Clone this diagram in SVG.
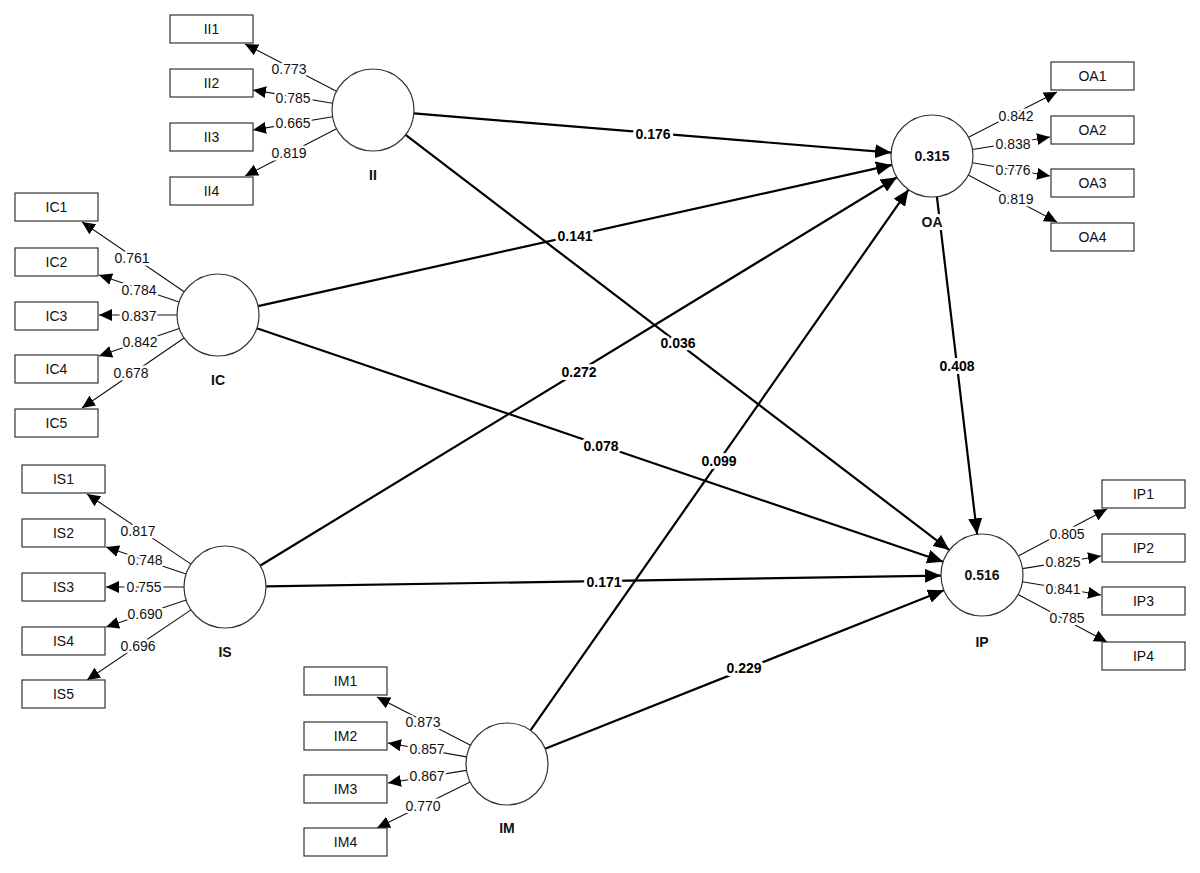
<svg xmlns="http://www.w3.org/2000/svg" width="1200" height="873" viewBox="0 0 1200 873">
<style>
.bg{fill:#fff}
.box{fill:#fff;stroke:#333;stroke-width:1.2}
.lv{fill:#fff;stroke:#333;stroke-width:1.2}
.bt{font-family:"Liberation Sans",Arial,sans-serif;font-size:14px;fill:#111;text-anchor:middle}
.nm{font-family:"Liberation Sans",Arial,sans-serif;font-size:14px;font-weight:bold;fill:#111;text-anchor:middle;stroke:#fff;stroke-width:6;paint-order:stroke;stroke-linejoin:round}
.ml{stroke:#111;stroke-width:1.1;fill:none;marker-end:url(#ah)}
.sl{stroke:#000;stroke-width:2.2;fill:none;marker-end:url(#ahb)}
.lt{font-family:"Liberation Sans",Arial,sans-serif;font-size:14px;fill:#111;text-anchor:middle;stroke:#fff;stroke-width:5;paint-order:stroke;stroke-linejoin:round}
.st{font-family:"Liberation Sans",Arial,sans-serif;font-size:14px;font-weight:bold;fill:#000;text-anchor:middle;stroke:#fff;stroke-width:6;paint-order:stroke;stroke-linejoin:round}
</style>
<defs>
<marker id="ah" markerUnits="userSpaceOnUse" markerWidth="14" markerHeight="12" viewBox="0 0 14 12" refX="13" refY="6" orient="auto"><path d="M0,0 L13,6 L0,12 Z" fill="#000"/></marker>
<marker id="ahb" markerUnits="userSpaceOnUse" markerWidth="17" markerHeight="14" viewBox="0 0 17 14" refX="16" refY="7" orient="auto"><path d="M0,0 L16,7 L0,14 Z" fill="#000"/></marker>
</defs>
<rect class="bg" x="0" y="0" width="1200" height="873"/>

<g id="connectors">
<line class="sl" x1="413.9" y1="113.4" x2="891.1" y2="152.6"/>
<line class="sl" x1="405.6" y1="134.9" x2="949.4" y2="550.1"/>
<line class="sl" x1="258.0" y1="306.1" x2="892.0" y2="164.9"/>
<line class="sl" x1="256.8" y1="328.2" x2="943.2" y2="561.8"/>
<line class="sl" x1="260.0" y1="565.7" x2="897.0" y2="177.3"/>
<line class="sl" x1="266.0" y1="586.4" x2="941.0" y2="575.6"/>
<line class="sl" x1="530.5" y1="730.4" x2="908.5" y2="189.6"/>
<line class="sl" x1="545.1" y1="748.8" x2="943.9" y2="590.2"/>
<line class="sl" x1="936.9" y1="196.7" x2="977.1" y2="534.3"/>

<line class="ml" x1="336.5" y1="91.2" x2="245" y2="44"/>
<line class="ml" x1="332.6" y1="103.3" x2="253" y2="90"/>
<line class="ml" x1="332.6" y1="116.7" x2="253" y2="130"/>
<line class="ml" x1="336.5" y1="128.8" x2="245" y2="176"/>

<line class="ml" x1="184.2" y1="291.7" x2="82" y2="222"/>
<line class="ml" x1="179.1" y1="302" x2="99" y2="275"/>
<line class="ml" x1="177" y1="315" x2="99" y2="315"/>
<line class="ml" x1="179.2" y1="328.4" x2="99" y2="356"/>
<line class="ml" x1="184.1" y1="338" x2="82" y2="408"/>

<line class="ml" x1="191" y1="564.1" x2="87" y2="494"/>
<line class="ml" x1="186.1" y1="574" x2="106" y2="547"/>
<line class="ml" x1="184" y1="587" x2="106" y2="587"/>
<line class="ml" x1="186.1" y1="600" x2="106" y2="627"/>
<line class="ml" x1="191" y1="609.9" x2="87" y2="680"/>

<line class="ml" x1="470.5" y1="745.2" x2="377" y2="697"/>
<line class="ml" x1="466.6" y1="756.9" x2="388" y2="743"/>
<line class="ml" x1="466.5" y1="770.4" x2="388" y2="783"/>
<line class="ml" x1="470.2" y1="782.1" x2="377" y2="828"/>

<line class="ml" x1="968.5" y1="137.3" x2="1057" y2="92"/>
<line class="ml" x1="972.5" y1="149.5" x2="1050" y2="137"/>
<line class="ml" x1="972.4" y1="162.8" x2="1050" y2="176"/>
<line class="ml" x1="968.2" y1="175.1" x2="1057" y2="222"/>

<line class="ml" x1="1018.2" y1="555.9" x2="1107" y2="509"/>
<line class="ml" x1="1022.5" y1="568.6" x2="1101" y2="556"/>
<line class="ml" x1="1022.4" y1="581.7" x2="1101" y2="595"/>
<line class="ml" x1="1018.1" y1="594.4" x2="1107" y2="642"/>

<text class="st" x="653" y="139">0.176</text>
<text class="st" x="575" y="241">0.141</text>
<text class="st" x="678" y="348">0.036</text>
<text class="st" x="579" y="377">0.272</text>
<text class="st" x="601" y="451">0.078</text>
<text class="st" x="719" y="466">0.099</text>
<text class="st" x="604" y="587">0.171</text>
<text class="st" x="744" y="673">0.229</text>
<text class="st" x="957" y="371">0.408</text>

<text class="lt" x="289" y="74">0.773</text>
<text class="lt" x="293" y="103">0.785</text>
<text class="lt" x="293" y="128">0.665</text>
<text class="lt" x="289" y="158">0.819</text>

<text class="lt" x="132" y="263">0.761</text>
<text class="lt" x="139" y="295">0.784</text>
<text class="lt" x="139" y="321">0.837</text>
<text class="lt" x="140" y="347">0.842</text>
<text class="lt" x="131" y="378">0.678</text>

<text class="lt" x="138" y="536">0.817</text>
<text class="lt" x="145" y="565">0.748</text>
<text class="lt" x="144" y="592">0.755</text>
<text class="lt" x="145" y="619">0.690</text>
<text class="lt" x="138" y="651">0.696</text>

<text class="lt" x="423" y="727">0.873</text>
<text class="lt" x="427" y="754">0.857</text>
<text class="lt" x="427" y="781">0.867</text>
<text class="lt" x="423" y="811">0.770</text>

<text class="lt" x="1016" y="121">0.842</text>
<text class="lt" x="1013" y="149">0.838</text>
<text class="lt" x="1013" y="175">0.776</text>
<text class="lt" x="1016" y="204">0.819</text>

<text class="lt" x="1067" y="539">0.805</text>
<text class="lt" x="1063" y="567">0.825</text>
<text class="lt" x="1063" y="594">0.841</text>
<text class="lt" x="1067" y="623">0.785</text>
</g>

<g id="II"><circle class="lv" cx="373" cy="110" r="41"/><text class="nm" x="373" y="180">II</text></g>
<g id="IC"><circle class="lv" cx="218" cy="315" r="41"/><text class="nm" x="218" y="385">IC</text></g>
<g id="IS"><circle class="lv" cx="225" cy="587" r="41"/><text class="nm" x="225" y="657">IS</text></g>
<g id="IM"><circle class="lv" cx="507" cy="764" r="41"/><text class="nm" x="507" y="833">IM</text></g>
<g id="OA"><circle class="lv" cx="932" cy="156" r="41"/><text class="nm" x="932" y="161">0.315</text><text class="nm" x="932" y="227">OA</text></g>
<g id="IP"><circle class="lv" cx="982" cy="575" r="41"/><text class="nm" x="982" y="580">0.516</text><text class="nm" x="982" y="647">IP</text></g>

<g id="II1"><rect class="box" x="170" y="15" width="83" height="28"/><text class="bt" x="211.5" y="34">II1</text></g>
<g id="II2"><rect class="box" x="170" y="69" width="83" height="28"/><text class="bt" x="211.5" y="88">II2</text></g>
<g id="II3"><rect class="box" x="170" y="123" width="83" height="28"/><text class="bt" x="211.5" y="142">II3</text></g>
<g id="II4"><rect class="box" x="170" y="177" width="83" height="28"/><text class="bt" x="211.5" y="196">II4</text></g>

<g id="IC1"><rect class="box" x="15" y="193" width="83" height="28"/><text class="bt" x="56.5" y="212">IC1</text></g>
<g id="IC2"><rect class="box" x="15" y="248" width="83" height="28"/><text class="bt" x="56.5" y="267">IC2</text></g>
<g id="IC3"><rect class="box" x="15" y="302" width="83" height="28"/><text class="bt" x="56.5" y="321">IC3</text></g>
<g id="IC4"><rect class="box" x="15" y="355" width="83" height="28"/><text class="bt" x="56.5" y="374">IC4</text></g>
<g id="IC5"><rect class="box" x="15" y="409" width="83" height="28"/><text class="bt" x="56.5" y="428">IC5</text></g>

<g id="IS1"><rect class="box" x="22" y="465" width="83" height="28"/><text class="bt" x="63.5" y="484">IS1</text></g>
<g id="IS2"><rect class="box" x="22" y="519" width="83" height="28"/><text class="bt" x="63.5" y="538">IS2</text></g>
<g id="IS3"><rect class="box" x="22" y="573" width="83" height="28"/><text class="bt" x="63.5" y="592">IS3</text></g>
<g id="IS4"><rect class="box" x="22" y="627" width="83" height="28"/><text class="bt" x="63.5" y="646">IS4</text></g>
<g id="IS5"><rect class="box" x="22" y="680" width="83" height="28"/><text class="bt" x="63.5" y="699">IS5</text></g>

<g id="IM1"><rect class="box" x="304" y="667" width="83" height="28"/><text class="bt" x="345.5" y="686">IM1</text></g>
<g id="IM2"><rect class="box" x="304" y="722" width="83" height="28"/><text class="bt" x="345.5" y="741">IM2</text></g>
<g id="IM3"><rect class="box" x="304" y="775" width="83" height="28"/><text class="bt" x="345.5" y="794">IM3</text></g>
<g id="IM4"><rect class="box" x="304" y="828" width="83" height="28"/><text class="bt" x="345.5" y="847">IM4</text></g>

<g id="OA1"><rect class="box" x="1051" y="62" width="83" height="28"/><text class="bt" x="1092.5" y="81">OA1</text></g>
<g id="OA2"><rect class="box" x="1051" y="116" width="83" height="28"/><text class="bt" x="1092.5" y="135">OA2</text></g>
<g id="OA3"><rect class="box" x="1051" y="169" width="83" height="28"/><text class="bt" x="1092.5" y="188">OA3</text></g>
<g id="OA4"><rect class="box" x="1051" y="223" width="83" height="28"/><text class="bt" x="1092.5" y="242">OA4</text></g>

<g id="IP1"><rect class="box" x="1102" y="480" width="83" height="28"/><text class="bt" x="1143.5" y="499">IP1</text></g>
<g id="IP2"><rect class="box" x="1102" y="534" width="83" height="28"/><text class="bt" x="1143.5" y="553">IP2</text></g>
<g id="IP3"><rect class="box" x="1102" y="587" width="83" height="28"/><text class="bt" x="1143.5" y="606">IP3</text></g>
<g id="IP4"><rect class="box" x="1102" y="642" width="83" height="28"/><text class="bt" x="1143.5" y="661">IP4</text></g>
</svg>
